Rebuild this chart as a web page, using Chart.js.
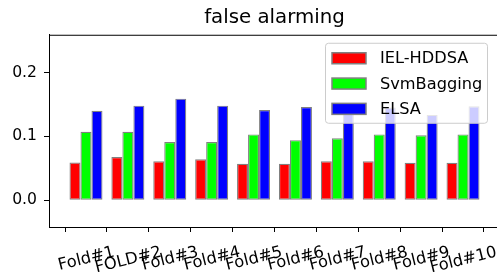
<!DOCTYPE html>
<html>
<head>
<meta charset="utf-8">
<script src="https://cdn.jsdelivr.net/npm/chart.js@4.4.0/dist/chart.umd.min.js"></script>
<style>
  html, body { margin: 0; padding: 0; overflow: hidden; background: #fff; }
  #wrap { width: 501px; height: 278px; }
</style>
</head>
<body>
<div id="wrap"><canvas id="falseChart"></canvas></div>
<script>
const folds = ['Fold#1', 'FOLD#2', 'Fold#3', 'Fold#4', 'Fold#5', 'Fold#6', 'Fold#7', 'Fold#8', 'Fold#9', 'Fold#10'];
const ielHddsa = [0.059, 0.0675, 0.061, 0.064, 0.057, 0.057, 0.061, 0.061, 0.0586, 0.0586];
const svmBagging = [0.107, 0.107, 0.091, 0.091, 0.103, 0.094, 0.097, 0.103, 0.1016, 0.103];
const elsa = [0.140, 0.148, 0.159, 0.148, 0.141, 0.146, 0.140, 0.145, 0.1335, 0.147];
const yTicks = [0.0, 0.1, 0.2];

const FONT = 'DejaVu Sans';

function points(values) {
    return values.map((v, i) => ({ x: i, y: v }));
}

// matplotlib-like frame, legend and rotated x labels
const extras = {
    id: 'extras',
    afterDatasetsDraw(chart) {
        const { ctx, chartArea: a } = chart;
        ctx.save();
        ctx.strokeStyle = '#000';
        ctx.lineWidth = 1;
        ctx.beginPath();
        ctx.moveTo(a.left, a.top + 0.5);
        ctx.lineTo(a.right, a.top + 0.5);
        ctx.moveTo(a.right - 0.5, a.top);
        ctx.lineTo(a.right - 0.5, a.bottom);
        ctx.stroke();

        // legend box, upper right
        const bw = 162, bh = 80;
        const bx = a.right - 13 - bw, by = a.top + 8;
        ctx.beginPath();
        ctx.roundRect(bx + 0.5, by + 0.5, bw, bh, 3);
        ctx.fillStyle = 'rgba(255,255,255,0.8)';
        ctx.fill();
        ctx.strokeStyle = '#cccccc';
        ctx.stroke();

        ctx.font = '16.2px "' + FONT + '"';
        ctx.textBaseline = 'middle';
        ctx.textAlign = 'left';
        chart.data.datasets.forEach((ds, i) => {
            const cy = by + 15.5 + i * 25.3;
            ctx.fillStyle = ds.backgroundColor;
            ctx.fillRect(bx + 7, cy - 5.5, 34, 11);
            ctx.strokeStyle = 'grey';
            ctx.lineWidth = 1.5;
            ctx.strokeRect(bx + 7, cy - 5.5, 34, 11);
            ctx.fillStyle = '#000';
            ctx.fillText(ds.label, bx + 55, cy + 1);
        });
        ctx.restore();
    },
    afterDraw(chart) {
        const { ctx, chartArea: a } = chart;
        const xs = chart.scales.x;
        const ang = 14 * Math.PI / 180;
        const top = a.bottom + 17.5;
        ctx.save();
        ctx.font = '16.3px "' + FONT + '"';
        ctx.fillStyle = '#000';
        ctx.textAlign = 'center';
        ctx.textBaseline = 'alphabetic';
        folds.forEach((label, i) => {
            const m = ctx.measureText(label);
            const w = m.width;
            const asc = ctx.measureText('Fold#').actualBoundingBoxAscent;
            const x = xs.getPixelForValue(i) + (asc * Math.sin(ang)) / 2;
            const y = top + (w / 2) * Math.sin(ang) + asc * Math.cos(ang);
            ctx.save();
            ctx.translate(x, y);
            ctx.rotate(-ang);
            ctx.fillText(label, 0, 0);
            ctx.restore();
        });
        ctx.restore();
    }
};

const ctx = document.getElementById('falseChart');

new Chart(ctx, {
    type: 'bar',
    data: {
        datasets: [
            { label: 'IEL-HDDSA', data: points(ielHddsa), backgroundColor: '#ff0000' },
            { label: 'SvmBagging', data: points(svmBagging), backgroundColor: '#00ff00' },
            { label: 'ELSA', data: points(elsa), backgroundColor: '#0000ff' }
        ]
    },
    options: {
        responsive: true,
        maintainAspectRatio: false,
        animation: false,
        layout: { padding: { left: 0, right: 1, top: 0, bottom: 0 } },
        datasets: {
            bar: {
                categoryPercentage: 0.788,
                barPercentage: 1,
                borderColor: 'grey',
                borderWidth: 1.2,
                borderSkipped: false
            }
        },
        plugins: {
            legend: { display: false },
            tooltip: { enabled: false },
            title: {
                display: true,
                text: 'false alarming',
                color: '#000',
                fullSize: false,
                font: { family: FONT, size: 19.8, weight: 'normal' },
                padding: { top: 6, bottom: 5 }
            }
        },
        scales: {
            x: {
                type: 'linear',
                min: -0.883,
                max: 9.883,
                offset: false,
                afterBuildTicks: (scale) => {
                    scale.ticks = folds.map((f, i) => ({ value: i }));
                },
                afterFit: (scale) => { scale.height = 51; },
                ticks: { display: false },
                grid: { drawOnChartArea: false, drawTicks: true, tickLength: 5, color: '#000' },
                border: { color: '#000', width: 1 }
            },
            y: {
                min: -0.042,
                max: 0.259,
                afterBuildTicks: (scale) => {
                    scale.ticks = yTicks.map(v => ({ value: v }));
                },
                afterFit: (scale) => { scale.width = 49; },
                ticks: {
                    color: '#000',
                    padding: 7,
                    font: { family: FONT, size: 15.6 },
                    callback: (v) => Number(v).toFixed(1)
                },
                grid: { drawOnChartArea: false, drawTicks: true, tickLength: 5, color: '#000' },
                border: { color: '#000', width: 1 }
            }
        }
    },
    plugins: [extras]
});
</script>
</body>
</html>
